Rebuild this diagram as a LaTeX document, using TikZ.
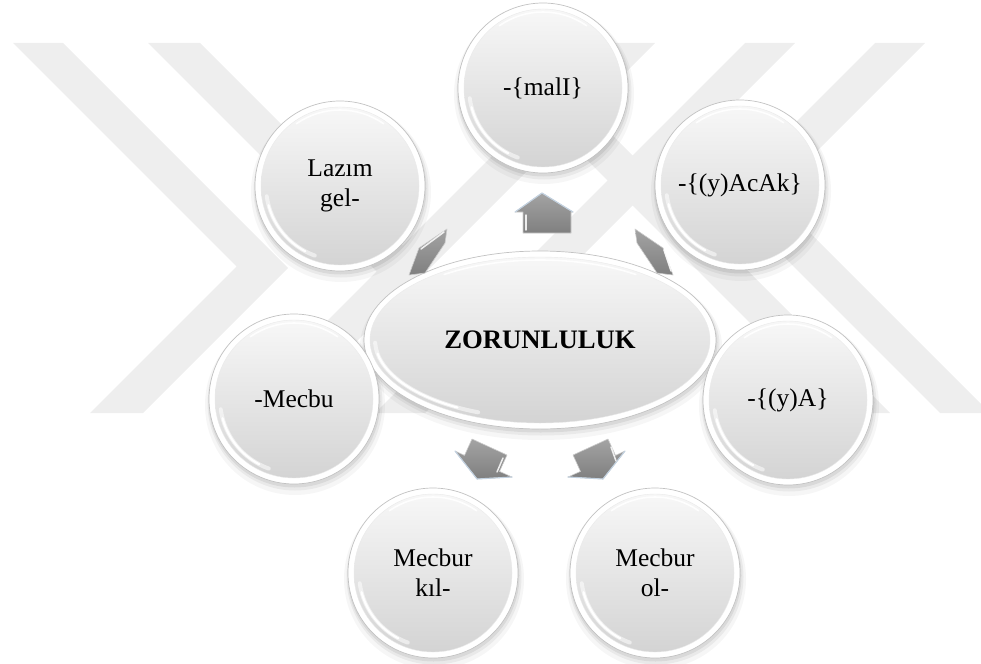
\documentclass[tikz,border=0pt]{standalone}
\usepackage{fontspec}
\setmainfont{Liberation Serif}
\usetikzlibrary{shapes.geometric}

\pgfdeclarelayer{mark}
\pgfdeclarelayer{shadow}
\pgfsetlayers{mark,shadow,main}

\definecolor{markgray}{gray}{0.935}
\definecolor{rimgray}{gray}{0.76}
\definecolor{bodytop}{gray}{0.975}
\definecolor{bodybot}{gray}{0.825}
\definecolor{arrowtop}{gray}{0.64}
\definecolor{arrowbot}{gray}{0.50}
\definecolor{arrowedge}{gray}{0.80}
\definecolor{arrowrim}{rgb}{0.76,0.82,0.88}

\tikzset{
  glossy/.style={fill=white, draw=rimgray, line width=0.7pt},
  ball/.style={glossy, circle, minimum size=170pt, inner sep=0pt, align=center,
    font=\fontsize{25.5}{30}\selectfont,
    path picture={
      \shade[top color=bodytop, bottom color=bodybot]
        (path picture bounding box.center) circle (79pt);
      \draw[rimgray!35, line width=0.4pt]
        (path picture bounding box.center) circle (79pt);
      % bright crescent on the lower left
      \draw[white, line width=4pt, opacity=.55, line cap=round]
        ([shift={(172:74)}]path picture bounding box.center)
        arc[start angle=172, end angle=110, radius=74];
      \draw[white, line width=2.2pt, line cap=round]
        ([shift={(165:74)}]path picture bounding box.center)
        arc[start angle=165, end angle=118, radius=74];
      % soft gleam along the top
      \draw[white, line width=1.6pt, opacity=.9, line cap=round]
        ([shift={(-55:76)}]path picture bounding box.center)
        arc[start angle=-55, end angle=-125, radius=76];
    }},
  hub/.style={glossy, ellipse, minimum width=352pt, minimum height=178pt,
    inner sep=0pt, font=\fontsize{26.7}{31}\selectfont\bfseries,
    path picture={
      \shade[top color=bodytop, bottom color=bodybot]
        (path picture bounding box.center) ellipse (170pt and 83pt);
      \draw[rimgray!35, line width=0.4pt]
        (path picture bounding box.center) ellipse (170pt and 83pt);
      \draw[white, line width=4pt, opacity=.55, line cap=round]
        ([shift={({165*cos(178)},{78*sin(178)})}]path picture bounding box.center)
        arc[start angle=178, end angle=112, x radius=165, y radius=78];
      \draw[white, line width=2.2pt, line cap=round]
        ([shift={({165*cos(170)},{78*sin(170)})}]path picture bounding box.center)
        arc[start angle=170, end angle=120, x radius=165, y radius=78];
      \draw[white, line width=1.6pt, opacity=.9, line cap=round]
        ([shift={({167*cos(-55)},{80*sin(-55)})}]path picture bounding box.center)
        arc[start angle=-55, end angle=-125, x radius=167, y radius=80];
    }},
  blockarrow/.style={top color=arrowtop, bottom color=arrowbot,
    draw=arrowedge, line width=0.6pt, line join=round},
  gleam/.style={white, opacity=.85, line width=1.5pt, line cap=round},
  bevel/.style={arrowrim, line width=1.1pt, line join=round, line cap=round},
}

\begin{document}
\begin{tikzpicture}[x=1pt, y=-1pt]
\useasboundingbox (0,0) rectangle (981,663);

% watermark chevrons and crossing bands
\begin{pgfonlayer}{mark}
\begin{scope}
  \clip (0,0) rectangle (981,663);
  \fill[markgray] (13,43) -- (63,43) -- (288,268) -- (143,413) -- (90,413) -- (236.5,266.5) -- cycle;
  \fill[markgray] (148,43) -- (200,43) -- (570,413) -- (518,413) -- cycle;
  \fill[markgray] (605,43) -- (655,43) -- (285,413) -- (235,413) -- cycle;
  \fill[markgray] (470,43) -- (520,43) -- (890,413) -- (840,413) -- cycle;
  \fill[markgray] (745,43) -- (795,43) -- (425,413) -- (375,413) -- cycle;
  \fill[markgray] (875,43) -- (925,43) -- (772.5,195.5) -- (990,413) -- (940,413) -- (722.5,195.5) -- cycle;
\end{scope}
\end{pgfonlayer}

% nodes
\node[hub]  (hub)   at (540,340) {ZORUNLULUK};
\node[ball] (malli) at (543,88)  {-\{malI\}};
\node[ball] (lazim) at (340,186) {Lazım\\gel-};
\node[ball] (acak)  at (740,185) {-\{(y)AcAk\}};
\node[ball] (mecbu) at (294,399) {-Mecbu};
\node[ball] (ya)    at (788,400) {-\{(y)A\}};
\node[ball] (kil)   at (433,573) {Mecbur\\kıl-};
\node[ball] (olm)   at (655,573) {Mecbur\\ol-};

% soft drop shadows
\begin{pgfonlayer}{shadow}
  \foreach \n in {malli,lazim,acak,mecbu,ya,kil,olm} {
    \fill[black, opacity=.035] ([shift={(1,6)}]\n.center) circle (90pt);
    \fill[black, opacity=.05]  ([shift={(1,4)}]\n.center) circle (87.5pt);
    \fill[black, opacity=.07]  ([shift={(0.5,2.5)}]\n.center) circle (86pt);
  }
  \fill[black, opacity=.035] ([shift={(1,6)}]hub.center) ellipse (181pt and 94pt);
  \fill[black, opacity=.05]  ([shift={(1,4)}]hub.center) ellipse (178.5pt and 91.5pt);
  \fill[black, opacity=.07]  ([shift={(0.5,2.5)}]hub.center) ellipse (177pt and 90pt);
\end{pgfonlayer}

% block arrows from the hub out to the balls
% up, towards -{malI}
\shadedraw[blockarrow] (542,193) -- (573,212) -- (571,212) -- (571,233)
  -- (523,233) -- (523,212) -- (515,212) -- cycle;
\draw[gleam] (526,215) -- (526,230);
\draw[bevel] (515,212) -- (542,193) -- (573,212);

% towards Lazım gel-
\shadedraw[blockarrow] (447,229) -- (445,243) -- (425,273) -- (409,275)
  -- (419,248) -- cycle;
\draw[gleam] (421,249) -- (444,232);

% towards -{(y)AcAk}
\shadedraw[blockarrow] (635,229) -- (663,248) -- (673,275) -- (657,273)
  -- (637,243) -- cycle;
\draw[gleam] (664,250) -- (671,271);

% towards Mecbur kıl-
\shadedraw[blockarrow] (477,479) -- (512,477) -- (499.5,471.4) -- (507,455)
  -- (472,439) -- (464.5,455.4) -- (455,451) -- cycle;
\draw[bevel] (455,451) -- (477,479) -- (512,477);
\draw[gleam] (503,458) -- (497,472);

% towards Mecbur ol-
\shadedraw[blockarrow] (603,479) -- (568,477) -- (580.5,471.4) -- (573,455)
  -- (608,439) -- (615.5,455.4) -- (625,451) -- cycle;
\draw[bevel] (625,451) -- (603,479) -- (568,477);
\draw[gleam] (611,447) -- (616,461);

\end{tikzpicture}
\end{document}
